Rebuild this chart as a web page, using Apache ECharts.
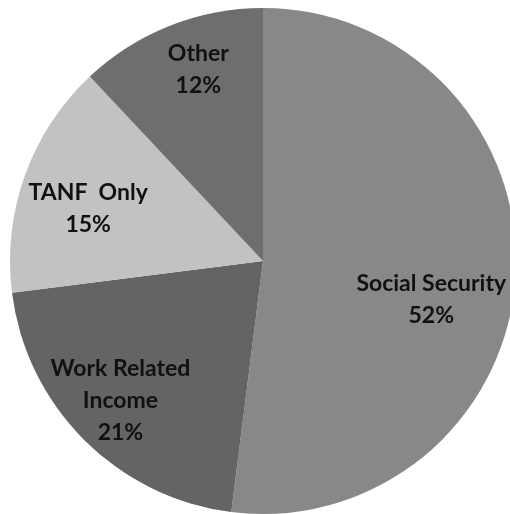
<!DOCTYPE html>
<html>
<head>
<meta charset="utf-8">
<script src="https://cdn.jsdelivr.net/npm/echarts@6/dist/echarts.min.js"></script>
<style>
  html, body { margin: 0; padding: 0; background: #fff; }
  #chart { width: 510px; height: 514px; }
</style>
</head>
<body>
<div id="chart"></div>
<script>
// categories in clockwise order starting at 12 o'clock
const categories = ['Social Security', 'Work Related\nIncome', 'TANF  Only', 'Other'];
const shares = [52, 21, 15, 12];

// styling (kept apart from the data)
const sliceColors = ['#888888', '#646464', '#c2c2c2', '#6e6e6e'];
const labelOffsets = [[39, 30], [-51, 48], [-53, -9], [-17, -71]];

const chart = echarts.init(document.getElementById('chart'));

const option = {
  backgroundColor: '#ffffff',
  animation: false,
  series: [{
    type: 'pie',
    center: [263, 261],
    radius: 253,
    startAngle: 90,
    clockwise: true,
    avoidLabelOverlap: false,
    itemStyle: { borderWidth: 0 },
    label: {
      show: true,
      position: 'inside',
      formatter: '{b}\n{d}%',
      color: '#111',
      fontFamily: 'Lato',
      fontWeight: 'bold',
      fontSize: 23,
      lineHeight: 32,
      align: 'center'
    },
    labelLine: { show: false },
    emphasis: { disabled: true },
    data: categories.map((name, i) => ({
      name,
      value: shares[i],
      itemStyle: { color: sliceColors[i] },
      label: { offset: labelOffsets[i] }
    }))
  }]
};

chart.setOption(option);
</script>
</body>
</html>
